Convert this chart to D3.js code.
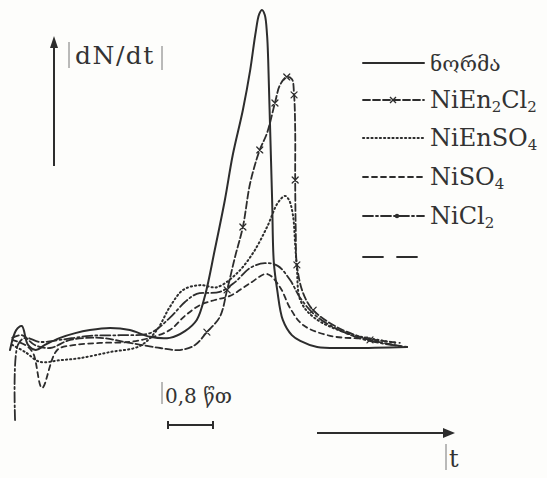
<!DOCTYPE html>
<html lang="ka">
<head>
<meta charset="UTF-8">
<title>dN/dt</title>
<style>
  html, body { margin: 0; padding: 0; background: #fdfdfb; }
  svg { display: block; }
  text { fill: #333; font-family: "DejaVu Serif", "DejaVu Sans", serif; }
</style>
</head>
<body>
<div id="chart"></div>
<script src="https://cdn.jsdelivr.net/npm/d3@7/dist/d3.min.js"></script>
<script>
// t in minutes, dN/dt in relative units (peak of the norm = 100)
var norma = [[0,-0.6],[0.11,5.3],[0.21,6.5],[0.32,0.9],[0.46,-0.6],[0.62,0.9],[0.89,3.0],[1.16,4.4],
  [1.42,5.3],[1.78,5.9],[2.13,5.3],[2.49,3.3],[2.84,3.0],[3.11,5.0],[3.32,8.3],[3.47,15.7],[3.64,29.0],
  [3.82,43.8],[3.96,57.1],[4.14,70.4],[4.27,82.2],[4.36,92.6],[4.43,98.8],[4.48,100],[4.53,98.5],
  [4.57,92.6],[4.59,85.2],[4.62,67.5],[4.66,43.8],[4.69,25.4],[4.75,17.2],[4.85,8.3],[5.01,3.8],
  [5.16,2.1],[5.46,0.3],[6.04,0],[7.06,0.3]];

var niEn2Cl2 = [[0.04,3.0],[0.21,3.8],[0.44,0.9],[0.71,0],[1.07,2.4],[1.60,3.0],[2.13,1.5],[2.67,0],
  [3.02,-0.6],[3.29,0.9],[3.50,4.7],[3.73,9.2],[3.86,17.2],[4.00,26.9],[4.14,35.8],[4.27,48.8],
  [4.44,58.6],[4.57,63.6],[4.71,72.5],[4.80,77.8],[4.92,80.2],[5.01,79.6],[5.05,74.9],[5.07,64.5],
  [5.07,49.7],[5.08,34.9],[5.10,24.6],[5.21,16.3],[5.39,11.2],[5.81,6.2],[6.40,2.4],[7.06,0.3]];

var niEnSO4 = [[0.04,0.9],[0.27,-1.2],[0.53,-4.1],[0.89,-3.6],[1.24,-3.0],[1.78,-1.2],[2.31,0.6],
  [2.61,5.3],[2.84,12.1],[3.08,17.2],[3.38,18.6],[3.68,18.0],[4.04,22.2],[4.32,28.1],[4.57,35.8],
  [4.76,42.9],[4.89,45.0],[4.96,43.8],[5.03,39.3],[5.07,30.5],[5.10,23.7],[5.16,14.2],[5.39,9.2],
  [5.99,4.4],[6.88,1.5]];

var niSO4 = [[0.04,2.4],[0.27,0.9],[0.41,-1.5],[0.57,-11.8],[0.84,-0.6],[1.16,0.9],[1.60,1.5],
  [2.13,1.8],[2.49,3.0],[2.84,5.3],[3.11,9.5],[3.38,12.7],[3.64,14.2],[3.91,15.4],[4.27,19.2],
  [4.57,21.9],[4.80,18.0],[4.98,11.8],[5.21,6.8],[5.69,3.6],[6.31,2.7],[6.93,1.5]];

var niCl2 = [[0.09,-21.3],[0.14,0.9],[0.27,3.0],[0.53,1.8],[0.89,2.4],[1.42,3.6],[1.96,3.8],[2.49,4.4],
  [2.84,8.9],[3.11,13.6],[3.32,16.0],[3.73,16.6],[4.00,19.5],[4.27,23.7],[4.53,25.1],[4.76,24.3],
  [4.98,20.1],[5.16,14.8],[5.42,9.8],[5.78,5.9],[6.31,2.4],[6.93,0.6]];

var labels = ["ნორმა", "NiEn2Cl2", "NiEnSO4", "NiSO4", "NiCl2", ""];
var scaleBarMinutes = 0.8;
var scaleBarLabel = "0,8 წთ";

var W = 547, H = 478;
var ink = "#2d2d2d";

var x = d3.scaleLinear().domain([0, 8]).range([10, 460]);
var y = d3.scaleLinear().domain([0, 100]).range([348, 10]);

var svg = d3.select("#chart").append("svg")
  .attr("width", W).attr("height", H);

var line = d3.line()
  .x(function (d) { return x(d[0]); })
  .y(function (d) { return y(d[1]); })
  .curve(d3.curveCatmullRom.alpha(0.5));

var series = [
  { data: norma, dash: null, width: 2 },
  { data: niEn2Cl2, dash: "7,3", width: 1.8, cross: true },
  { data: niEnSO4, dash: "1.2,3", width: 2 },
  { data: niSO4, dash: "5,4", width: 1.8 },
  { data: niCl2, dash: "10,3,2,3", width: 1.8 },
  { data: null, dash: "20,14", width: 1.8 }
];

var curves = svg.append("g").attr("fill", "none").attr("stroke", ink)
  .attr("stroke-linecap", "round").attr("stroke-linejoin", "round");

series.forEach(function (s) {
  if (!s.data) return;
  curves.append("path")
    .attr("d", line(s.data))
    .attr("stroke-width", s.width)
    .attr("stroke-dasharray", s.dash);
  if (s.cross) {
    // small x marks on the rising and falling flanks
    var pts = s.data.filter(function (d, i) { return d[0] > 3.4 && i % 2 === 0; });
    curves.selectAll(null).data(pts).enter().append("path")
      .attr("d", function (d) {
        var cx = x(d[0]), cy = y(d[1]);
        return "M" + (cx - 3) + "," + (cy - 3) + "L" + (cx + 3) + "," + (cy + 3) +
          "M" + (cx + 3) + "," + (cy - 3) + "L" + (cx - 3) + "," + (cy + 3);
      })
      .attr("stroke-width", 1.3);
  }
});

// axis arrows
var axes = svg.append("g").attr("stroke", ink).attr("fill", ink);
axes.append("line").attr("x1", 54).attr("y1", 166).attr("x2", 54).attr("y2", 42).attr("stroke-width", 2);
axes.append("path").attr("d", "M54,36 L50,48 L58,48 Z").attr("stroke", "none");
axes.append("line").attr("x1", 317).attr("y1", 433).attr("x2", 446).attr("y2", 433).attr("stroke-width", 2);
axes.append("path").attr("d", "M455,433 L443,428 L443,438 Z").attr("stroke", "none");

// label bars as in the original typesetting
axes.append("line").attr("x1", 69).attr("y1", 42).attr("x2", 69).attr("y2", 68).attr("stroke-width", 1).attr("stroke", "#777");
axes.append("line").attr("x1", 162).attr("y1", 46).attr("x2", 162).attr("y2", 70).attr("stroke-width", 1).attr("stroke", "#777");
axes.append("line").attr("x1", 446).attr("y1", 444).attr("x2", 446).attr("y2", 470).attr("stroke-width", 1).attr("stroke", "#777");
axes.append("line").attr("x1", 162).attr("y1", 382).attr("x2", 162).attr("y2", 404).attr("stroke-width", 1).attr("stroke", "#777");

svg.append("text").attr("x", 75).attr("y", 64)
  .attr("font-size", 25).attr("letter-spacing", 1.5).text("dN/dt");
svg.append("text").attr("x", 449).attr("y", 467)
  .attr("font-size", 24).text("t");

// time scale bar
svg.append("text").attr("x", 165).attr("y", 403)
  .attr("font-size", 20).text(scaleBarLabel);
var bx0 = x(0) + 158, bx1 = bx0 + (x(scaleBarMinutes) - x(0));
var bar = svg.append("g").attr("stroke", ink).attr("stroke-width", 2);
bar.append("line").attr("x1", bx0).attr("x2", bx1).attr("y1", 425).attr("y2", 425);
bar.append("line").attr("x1", bx0).attr("x2", bx0).attr("y1", 421).attr("y2", 429);
bar.append("line").attr("x1", bx1).attr("x2", bx1).attr("y1", 421).attr("y2", 429);

// legend
var rowY = [63, 100, 138, 177, 216, 257];
var legend = svg.append("g");
series.forEach(function (s, i) {
  var g = legend.append("g").attr("transform", "translate(0," + rowY[i] + ")");
  g.append("line").attr("x1", 363).attr("x2", 424).attr("y1", 0).attr("y2", 0)
    .attr("stroke", ink).attr("stroke-width", s.width)
    .attr("stroke-linecap", "round")
    .attr("stroke-dasharray", s.dash);
  if (s.cross) {
    g.append("path").attr("d", "M390,-3L396,3M396,-3L390,3")
      .attr("stroke", ink).attr("stroke-width", 1.4);
  }
  if (i === 4) {
    g.append("circle").attr("cx", 397).attr("cy", 0).attr("r", 2.2).attr("fill", ink);
  }
  if (!labels[i]) return;
  var t = g.append("text").attr("x", 430).attr("y", 8)
    .attr("font-size", i === 0 ? 21 : 24);
  // digits become subscripts
  var shift = 0;
  labels[i].split(/(\d)/).forEach(function (part) {
    if (part === "") return;
    var sub = /^\d$/.test(part);
    var target = sub ? 4 : 0;
    t.append("tspan")
      .attr("font-size", sub ? 15 : null)
      .attr("dy", target - shift)
      .text(part);
    shift = target;
  });
});
</script>
</body>
</html>
